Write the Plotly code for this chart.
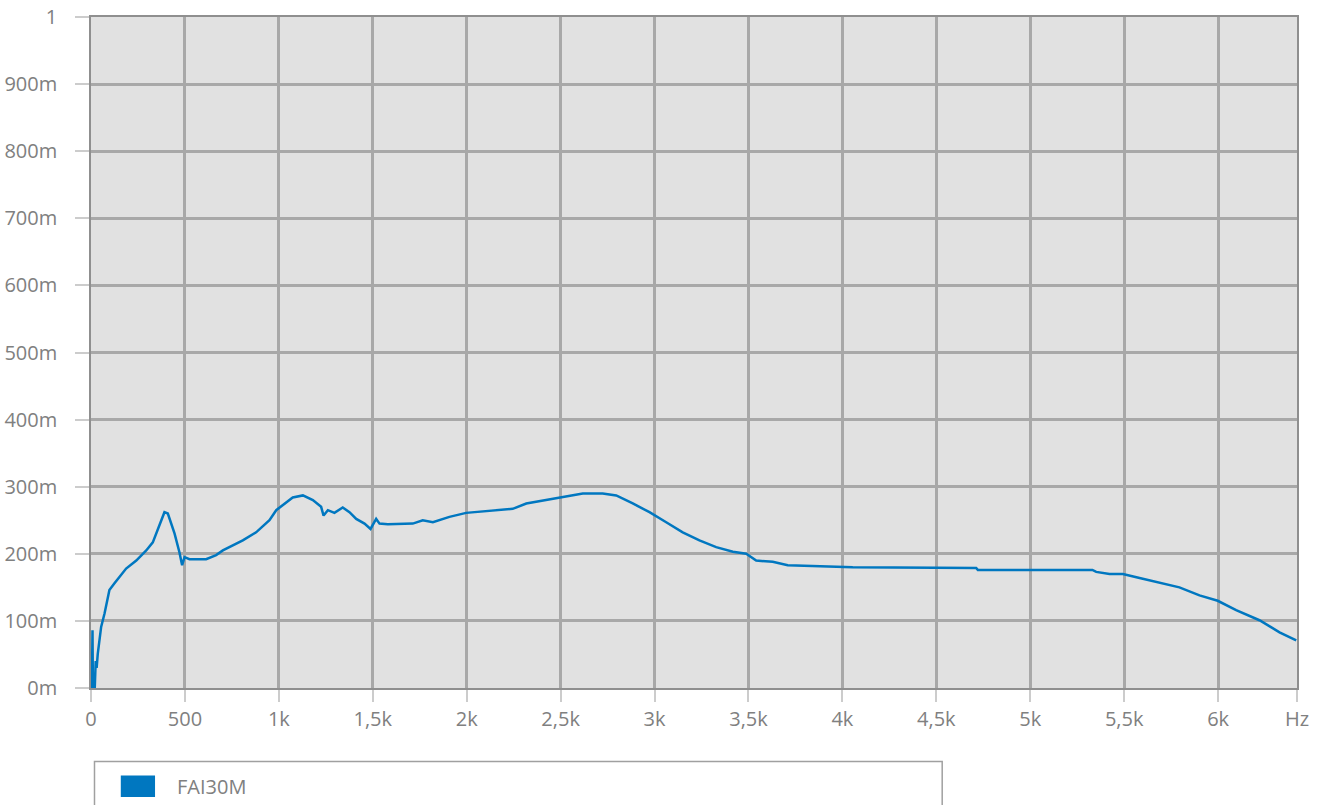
import plotly.graph_objects as go

freq_hz = [0, 0, 3, 5, 8, 10, 20, 25, 30, 36, 54, 72, 98, 125, 161, 187, 241, 294, 329, 365, 391,
           409, 445, 471, 485, 498, 524, 613, 666, 702, 808, 879, 950, 986, 1074, 1128, 1181,
           1225, 1238, 1261, 1296, 1340, 1376, 1412, 1456, 1488, 1518, 1536, 1580, 1713, 1766,
           1820, 1908, 1997, 2139, 2245, 2317, 2441, 2494, 2618, 2724, 2796, 2884, 2973, 3062,
           3150, 3239, 3328, 3417, 3488, 3541, 3629, 3709, 3984, 4055, 4712, 4721, 5331, 5351,
           5422, 5493, 5582, 5706, 5794, 5901, 5998, 6096, 6220, 6327, 6416]
fai30m = [0.030, 0.000, 0.000, 0.010, 0.086, 0.000, 0.000, 0.040, 0.030, 0.051, 0.091, 0.111,
          0.146, 0.156, 0.168, 0.178, 0.190, 0.205, 0.217, 0.245, 0.262, 0.260, 0.230, 0.202,
          0.183, 0.195, 0.192, 0.192, 0.198, 0.205, 0.220, 0.232, 0.250, 0.265, 0.284, 0.287,
          0.280, 0.270, 0.257, 0.265, 0.261, 0.269, 0.262, 0.252, 0.245, 0.237, 0.252, 0.245,
          0.244, 0.245, 0.250, 0.247, 0.255, 0.261, 0.265, 0.267, 0.275, 0.281, 0.284, 0.290,
          0.290, 0.287, 0.275, 0.262, 0.247, 0.232, 0.220, 0.210, 0.203, 0.200, 0.190, 0.188,
          0.183, 0.181, 0.180, 0.179, 0.176, 0.176, 0.173, 0.170, 0.170, 0.164, 0.156, 0.150,
          0.138, 0.130, 0.116, 0.101, 0.083, 0.071]

x_tickvals = [0, 500, 1000, 1500, 2000, 2500, 3000, 3500, 4000, 4500, 5000, 5500, 6000, 6420]
x_ticktext = ["0", "500", "1k", "1,5k", "2k", "2,5k", "3k", "3,5k", "4k", "4,5k", "5k", "5,5k", "6k", "Hz"]
y_tickvals = [0, 0.1, 0.2, 0.3, 0.4, 0.5, 0.6, 0.7, 0.8, 0.9, 1.0]
y_ticktext = ["0m", "100m", "200m", "300m", "400m", "500m", "600m", "700m", "800m", "900m", "1"]
series_name = "FAI30M"

LINE_BLUE = "#0077c0"
TEXT_GRAY = "#808080"
FONT = "Open Sans"

fig = go.Figure()
fig.add_trace(go.Scatter(x=freq_hz, y=fai30m, mode="lines", name=series_name,
                         line=dict(color=LINE_BLUE, width=2.5), showlegend=False))

fig.update_layout(
    width=1327, height=805,
    margin=dict(l=91, r=30, t=17, b=117, autoexpand=False),
    paper_bgcolor="white", plot_bgcolor="#e1e1e1",
    font=dict(family=FONT, size=20, color=TEXT_GRAY),
    showlegend=False,
)
fig.update_xaxes(range=[0, 6420], tickmode="array", tickvals=x_tickvals, ticktext=x_ticktext,
                 automargin=False,
                 showgrid=True, gridcolor="#a8a8a8", gridwidth=3, zeroline=False,
                 showline=True, linecolor="#8f8f8f", linewidth=1.5, mirror=True,
                 ticks="outside", ticklen=12, tickcolor="#cccccc", tickwidth=1.5,
                 tickfont=dict(family=FONT, size=20, color=TEXT_GRAY))
fig.update_yaxes(range=[0, 1], tickmode="array", tickvals=y_tickvals, ticktext=y_ticktext,
                 automargin=False,
                 showgrid=True, gridcolor="#a8a8a8", gridwidth=3, zeroline=False,
                 showline=True, linecolor="#8f8f8f", linewidth=1.5, mirror=True,
                 ticks="outside", ticklen=14, tickcolor="#cccccc", tickwidth=1.5,
                 ticklabelstandoff=14,
                 tickfont=dict(family=FONT, size=20, color=TEXT_GRAY))

# Legend drawn as box + swatch + text below the plot
fig.add_shape(type="rect", xref="paper", yref="paper", x0=0.0029, x1=0.7058, y0=-0.19, y1=-0.1096,
              line=dict(color="#a0a0a0", width=1.5), fillcolor="white", layer="above")
fig.add_shape(type="rect", xref="paper", yref="paper", x0=0.0247, x1=0.0531, y0=-0.1625, y1=-0.1303,
              line=dict(width=0), fillcolor=LINE_BLUE, layer="above")
fig.add_annotation(xref="paper", yref="paper", x=0.0693, y=-0.1462, xanchor="left", yanchor="middle",
                   text=series_name, showarrow=False, font=dict(family=FONT, size=20, color=TEXT_GRAY))

fig.write_html("out.html", config={"displayModeBar": False},
               post_script="document.body.style.margin='0';document.body.style.overflow='hidden';")
